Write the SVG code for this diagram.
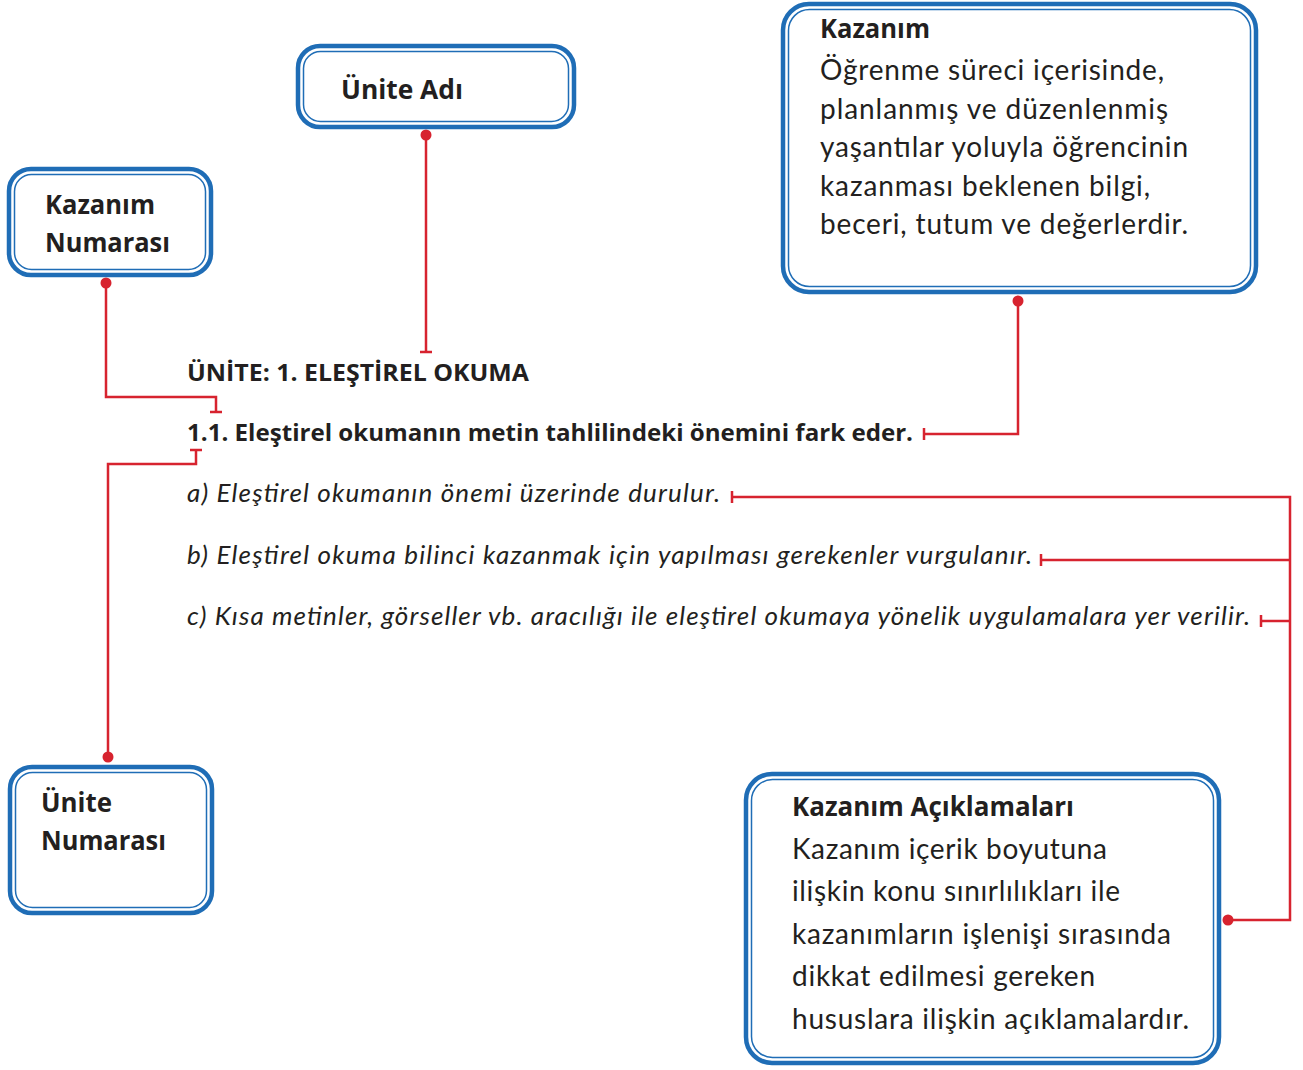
<svg xmlns="http://www.w3.org/2000/svg" width="1303" height="1070" viewBox="0 0 1303 1070">
<style>
.outer{fill:#fff;stroke:#1f6db6;stroke-width:4.5}
.inner{fill:none;stroke:#1f6db6;stroke-width:1.5}
.t{font-family:Lato,"Liberation Sans",sans-serif;fill:#231f20}
.b{font-family:"Open Sans",Lato,"Liberation Sans",sans-serif;font-weight:bold}
.i{font-style:italic}
.c{fill:none;stroke:#d7232f;stroke-width:2.5}
</style>
<defs>
<marker id="dot" markerUnits="userSpaceOnUse" markerWidth="14" markerHeight="14" refX="7" refY="7" viewBox="0 0 14 14" orient="auto"><circle cx="7" cy="7" r="5.5" fill="#d7232f"/></marker>
<marker id="bar" markerUnits="userSpaceOnUse" markerWidth="16" markerHeight="16" refX="8" refY="8" viewBox="0 0 16 16" orient="auto"><path d="M8,2 V14" stroke="#d7232f" stroke-width="2.5"/></marker>
</defs>
<rect width="1303" height="1070" fill="#fff"/>

<g id="connectors">
<path class="c" d="M426,135 V352" marker-start="url(#dot)" marker-end="url(#bar)"/>
<path class="c" d="M106,283 V397 H216 V412" marker-start="url(#dot)" marker-end="url(#bar)"/>
<path class="c" d="M108,757 V464 H196 V450" marker-start="url(#dot)" marker-end="url(#bar)"/>
<path class="c" d="M1018,301 V434 H924" marker-start="url(#dot)" marker-end="url(#bar)"/>
<path class="c" d="M1228,920 H1290 V497 H732" marker-start="url(#dot)" marker-end="url(#bar)"/>
<path class="c" d="M1290,560 H1041" marker-end="url(#bar)"/>
<path class="c" d="M1290,621 H1261" marker-end="url(#bar)"/>
</g>

<g id="unite-adi">
<rect class="outer" x="298" y="46" width="276" height="81" rx="22"/>
<rect class="inner" x="303.5" y="51.5" width="265" height="70" rx="17"/>
<text class="t b" x="341" y="99" font-size="26" textLength="122" lengthAdjust="spacingAndGlyphs">Ünite Adı</text>
</g>

<g id="kazanim-numarasi">
<rect class="outer" x="9" y="169" width="202" height="106" rx="22"/>
<rect class="inner" x="14.5" y="174.5" width="191" height="95" rx="17"/>
<text class="t b" x="45" y="214" font-size="26" textLength="110" lengthAdjust="spacingAndGlyphs">Kazanım</text>
<text class="t b" x="45" y="252" font-size="26" textLength="125" lengthAdjust="spacingAndGlyphs">Numarası</text>
</g>

<g id="unite-numarasi">
<rect class="outer" x="10" y="767" width="202" height="146" rx="22"/>
<rect class="inner" x="15.5" y="772.5" width="191" height="135" rx="17"/>
<text class="t b" x="41" y="812" font-size="26" textLength="71" lengthAdjust="spacingAndGlyphs">Ünite</text>
<text class="t b" x="41" y="850" font-size="26" textLength="125" lengthAdjust="spacingAndGlyphs">Numarası</text>
</g>

<g id="kazanim">
<rect class="outer" x="783" y="4" width="473" height="288" rx="26"/>
<rect class="inner" x="788.5" y="9.5" width="462" height="277" rx="21"/>
<text class="t b" x="820" y="38" font-size="26" textLength="110" lengthAdjust="spacingAndGlyphs">Kazanım</text>
<text class="t" font-size="28">
<tspan x="820" y="80" textLength="344">Öğrenme süreci içerisinde,</tspan>
<tspan x="820" y="119" textLength="348">planlanmış ve düzenlenmiş</tspan>
<tspan x="820" y="157" textLength="368">yaşantılar yoluyla öğrencinin</tspan>
<tspan x="820" y="196" textLength="330">kazanması beklenen bilgi,</tspan>
<tspan x="820" y="234" textLength="368">beceri, tutum ve değerlerdir.</tspan>
</text>
</g>

<g id="kazanim-aciklamalari">
<rect class="outer" x="746" y="774" width="473" height="289" rx="26"/>
<rect class="inner" x="751.5" y="779.5" width="462" height="278" rx="21"/>
<text class="t b" x="792" y="816" font-size="26" textLength="282" lengthAdjust="spacingAndGlyphs">Kazanım Açıklamaları</text>
<text class="t" font-size="28">
<tspan x="792" y="859" textLength="315">Kazanım içerik boyutuna</tspan>
<tspan x="792" y="901" textLength="328">ilişkin konu sınırlılıkları ile</tspan>
<tspan x="792" y="944" textLength="379">kazanımların işlenişi sırasında</tspan>
<tspan x="792" y="986" textLength="303">dikkat edilmesi gereken</tspan>
<tspan x="792" y="1029" textLength="397">hususlara ilişkin açıklamalardır.</tspan>
</text>
</g>

<g id="content">
<text class="t b" x="187" y="381" font-size="24" textLength="342" lengthAdjust="spacingAndGlyphs">ÜNİTE: 1. ELEŞTİREL OKUMA</text>
<text class="t b" x="187" y="441" font-size="24" textLength="726" lengthAdjust="spacingAndGlyphs">1.1. Eleştirel okumanın metin tahlilindeki önemini fark eder.</text>
<text class="t i" x="187" y="502" font-size="26" textLength="533">a) Eleştirel okumanın önemi üzerinde durulur.</text>
<text class="t i" x="187" y="564" font-size="26" textLength="845">b) Eleştirel okuma bilinci kazanmak için yapılması gerekenler vurgulanır.</text>
<text class="t i" x="187" y="625" font-size="26" textLength="1063">c) Kısa metinler, görseller vb. aracılığı ile eleştirel okumaya yönelik uygulamalara yer verilir.</text>
</g>
</svg>
